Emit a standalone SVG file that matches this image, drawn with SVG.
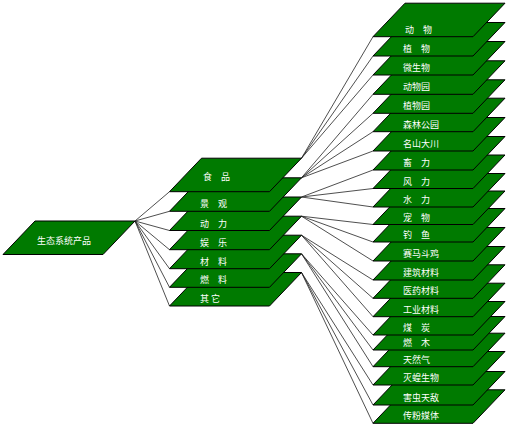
<svg xmlns="http://www.w3.org/2000/svg" xmlns:xlink="http://www.w3.org/1999/xlink" width="508" height="426" viewBox="0 0 508 426">
<style>
.card{fill:#007a00;stroke:#000;stroke-width:1}
.lbl{fill:#fff;font-family:"Noto Sans CJK SC","Noto Sans",sans-serif;font-size:9px}
#connectors line{stroke:#222;stroke-width:0.8}
</style>
<defs>
<polygon id="card" class="card" points="0,33.5 32,0 132,0 100,33.5"/>
</defs>
<rect width="508" height="426" fill="#fff"/>
<g id="connectors">
<line x1="135" y1="221" x2="169.5" y2="191.7"/>
<line x1="135" y1="221" x2="169.5" y2="211.3"/>
<line x1="135" y1="221" x2="169.5" y2="230.5"/>
<line x1="135" y1="221" x2="169.5" y2="249.7"/>
<line x1="135" y1="221" x2="169.5" y2="268.7"/>
<line x1="135" y1="221" x2="169.5" y2="287.3"/>
<line x1="135" y1="221" x2="169.5" y2="306"/>
<line x1="301.5" y1="158.2" x2="373" y2="36.7"/>
<line x1="301.5" y1="158.2" x2="373" y2="56"/>
<line x1="301.5" y1="158.2" x2="373" y2="75"/>
<line x1="301.5" y1="177.8" x2="373" y2="94.3"/>
<line x1="301.5" y1="177.8" x2="373" y2="113.3"/>
<line x1="301.5" y1="177.8" x2="373" y2="131.7"/>
<line x1="301.5" y1="177.8" x2="373" y2="151"/>
<line x1="301.5" y1="197" x2="373" y2="170"/>
<line x1="301.5" y1="197" x2="373" y2="188.5"/>
<line x1="301.5" y1="197" x2="373" y2="207"/>
<line x1="301.5" y1="216.2" x2="373" y2="224.5"/>
<line x1="301.5" y1="216.2" x2="373" y2="242"/>
<line x1="301.5" y1="216.2" x2="373" y2="261"/>
<line x1="301.5" y1="235.2" x2="373" y2="280"/>
<line x1="301.5" y1="235.2" x2="373" y2="298.3"/>
<line x1="301.5" y1="235.2" x2="373" y2="316.7"/>
<line x1="301.5" y1="253.8" x2="373" y2="335"/>
<line x1="301.5" y1="253.8" x2="373" y2="350"/>
<line x1="301.5" y1="253.8" x2="373" y2="366.7"/>
<line x1="301.5" y1="272.5" x2="373" y2="385"/>
<line x1="301.5" y1="272.5" x2="373" y2="405"/>
<line x1="301.5" y1="272.5" x2="373" y2="423.3"/>
</g>
<g id="root"><use xlink:href="#card" x="3" y="221"/><text class="lbl" x="37" y="244">生态系统产品</text></g>
<g id="mid-qita"><use xlink:href="#card" x="169.5" y="272.5"/><text class="lbl" x="200" y="302">其 它</text></g>
<g id="mid-ranliao"><use xlink:href="#card" x="169.5" y="253.8"/><text class="lbl" x="200" y="283.3">燃　料</text></g>
<g id="mid-cailiao"><use xlink:href="#card" x="169.5" y="235.2"/><text class="lbl" x="200" y="264.7">材　料</text></g>
<g id="mid-yule"><use xlink:href="#card" x="169.5" y="216.2"/><text class="lbl" x="200" y="245.7">娱　乐</text></g>
<g id="mid-dongli"><use xlink:href="#card" x="169.5" y="197"/><text class="lbl" x="200" y="226.5">动　力</text></g>
<g id="mid-jingguan"><use xlink:href="#card" x="169.5" y="177.8"/><text class="lbl" x="200" y="207.3">景　观</text></g>
<g id="mid-shipin"><use xlink:href="#card" x="169.5" y="158.2"/><text class="lbl" x="203" y="179.8">食　品</text></g>
<g id="r22"><use xlink:href="#card" x="373" y="389.8"/><text class="lbl" x="403" y="419.3">传粉媒体</text></g>
<g id="r21"><use xlink:href="#card" x="373" y="371.5"/><text class="lbl" x="403" y="401">害虫天敌</text></g>
<g id="r20"><use xlink:href="#card" x="373" y="351.5"/><text class="lbl" x="403" y="381">灭蝗生物</text></g>
<g id="r19"><use xlink:href="#card" x="373" y="333.2"/><text class="lbl" x="403" y="362.7">天然气</text></g>
<g id="r18"><use xlink:href="#card" x="373" y="316.5"/><text class="lbl" x="403" y="346">燃　木</text></g>
<g id="r17"><use xlink:href="#card" x="373" y="301.5"/><text class="lbl" x="403" y="331">煤　炭</text></g>
<g id="r16"><use xlink:href="#card" x="373" y="283.2"/><text class="lbl" x="403" y="312.7">工业材料</text></g>
<g id="r15"><use xlink:href="#card" x="373" y="264.8"/><text class="lbl" x="403" y="294.3">医药材料</text></g>
<g id="r14"><use xlink:href="#card" x="373" y="246.5"/><text class="lbl" x="403" y="276">建筑材料</text></g>
<g id="r13"><use xlink:href="#card" x="373" y="227.5"/><text class="lbl" x="403" y="257">赛马斗鸡</text></g>
<g id="r12"><use xlink:href="#card" x="373" y="208.5"/><text class="lbl" x="403" y="238">钓　鱼</text></g>
<g id="r11"><use xlink:href="#card" x="373" y="191"/><text class="lbl" x="403" y="220.5">宠　物</text></g>
<g id="r10"><use xlink:href="#card" x="373" y="173.5"/><text class="lbl" x="403" y="203">水　力</text></g>
<g id="r9"><use xlink:href="#card" x="373" y="155"/><text class="lbl" x="403" y="184.5">风　力</text></g>
<g id="r8"><use xlink:href="#card" x="373" y="136.5"/><text class="lbl" x="403" y="166">畜　力</text></g>
<g id="r7"><use xlink:href="#card" x="373" y="117.5"/><text class="lbl" x="403" y="147">名山大川</text></g>
<g id="r6"><use xlink:href="#card" x="373" y="98.2"/><text class="lbl" x="403" y="127.7">森林公园</text></g>
<g id="r5"><use xlink:href="#card" x="373" y="79.8"/><text class="lbl" x="403" y="109.3">植物园</text></g>
<g id="r4"><use xlink:href="#card" x="373" y="60.8"/><text class="lbl" x="403" y="90.3">动物园</text></g>
<g id="r3"><use xlink:href="#card" x="373" y="41.5"/><text class="lbl" x="403" y="71">微生物</text></g>
<g id="r2"><use xlink:href="#card" x="373" y="22.5"/><text class="lbl" x="403" y="52">植　物</text></g>
<g id="r1"><use xlink:href="#card" x="373" y="3.2"/><text class="lbl" x="405" y="32.7">动　物</text></g>
</svg>
